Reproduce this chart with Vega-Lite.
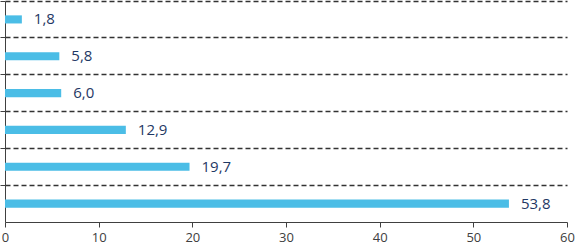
{
  "$schema": "https://vega.github.io/schema/vega-lite/v6.json",
  "autosize": {"type": "none"},
  "width": 562,
  "height": 221,
  "padding": {"left": 5, "top": 1, "right": 9, "bottom": 27},
  "background": "white",
  "config": {
    "view": {"stroke": null},
    "locale": {"number": {"decimal": ",", "thousands": ".", "grouping": [3], "currency": ["", " €"]}},
    "font": "Open Sans"
  },
  "data": {
    "values": [
      {"cat": "A", "value": 1.8},
      {"cat": "B", "value": 5.8},
      {"cat": "C", "value": 6.0},
      {"cat": "D", "value": 12.9},
      {"cat": "E", "value": 19.7},
      {"cat": "F", "value": 53.8}
    ]
  },
  "encoding": {
    "y": {
      "field": "cat", "type": "nominal", "sort": null,
      "scale": {"paddingInner": 0, "paddingOuter": 0},
      "axis": {
        "title": null, "labels": false, "bandPosition": 0,
        "domainColor": "#404040", "tickColor": "#404040", "tickSize": 5,
        "grid": true, "gridColor": "#333333", "gridDash": [5, 3], "gridWidth": 1.4
      }
    },
    "x": {
      "field": "value", "type": "quantitative",
      "scale": {"domain": [0, 60], "nice": false},
      "axis": {
        "title": null, "values": [0, 10, 20, 30, 40, 50, 60], "grid": false,
        "domainColor": "#404040", "tickColor": "#404040", "tickSize": 5,
        "labelColor": "#404040", "labelFontSize": 13, "labelPadding": 4, "labelFlush": false,
        "format": "d"
      }
    }
  },
  "layer": [
    {"mark": {"type": "bar", "color": "#4BBDE6", "height": {"band": 0.22}}},
    {
      "mark": {"type": "text", "align": "left", "baseline": "middle", "dx": 12, "fontSize": 15, "color": "#1F3864"},
      "encoding": {"text": {"field": "value", "type": "quantitative", "format": ".1f"}}
    }
  ]
}
